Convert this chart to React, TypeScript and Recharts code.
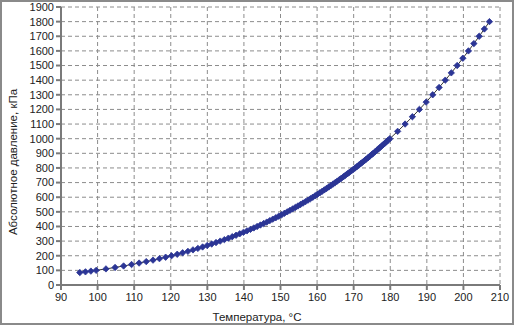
import React from 'react';
import { LineChart, Line, XAxis, YAxis, CartesianGrid, Label } from 'recharts';

const pressureKPa = [
  85, 90, 95, 100, 110, 120, 130, 140, 150, 160, 170, 180, 190, 200,
  210, 220, 230, 240, 250, 260, 270, 280, 290, 300,
  310, 320, 330, 340, 350, 360, 370, 380, 390, 400,
  410, 420, 430, 440, 450, 460, 470, 480, 490, 500,
  510, 520, 530, 540, 550, 560, 570, 580, 590, 600,
  610, 620, 630, 640, 650, 660, 670, 680, 690, 700,
  710, 720, 730, 740, 750, 760, 770, 780, 790, 800,
  810, 820, 830, 840, 850, 860, 870, 880, 890, 900,
  910, 920, 930, 940, 950, 960, 970, 980, 990, 1000,
  1050, 1100, 1150, 1200, 1250, 1300, 1350, 1400, 1450, 1500,
  1550, 1600, 1650, 1700, 1750, 1800,
];

const temperatureC = [
  95.14, 96.69, 98.17, 99.61, 102.29, 104.78, 107.11, 109.29, 111.35, 113.3, 115.15, 116.91, 118.6, 120.21,
  121.77, 123.25, 124.69, 126.08, 127.41, 128.71, 129.97, 131.19, 132.37, 133.52,
  134.65, 135.74, 136.8, 137.85, 138.86, 139.86, 140.83, 141.77, 142.7, 143.61,
  144.51, 145.39, 146.24, 147.08, 147.9, 148.72, 149.52, 150.31, 151.08, 151.83,
  152.58, 153.32, 154.05, 154.76, 155.46, 156.16, 156.84, 157.52, 158.18, 158.83,
  159.48, 160.12, 160.75, 161.37, 161.98, 162.59, 163.19, 163.79, 164.37, 164.95,
  165.53, 166.09, 166.65, 167.2, 167.75, 168.3, 168.83, 169.37, 169.89, 170.41,
  170.93, 171.44, 171.95, 172.45, 172.94, 173.43, 173.92, 174.4, 174.88, 175.35,
  175.82, 176.29, 176.75, 177.21, 177.66, 178.11, 178.56, 179.01, 179.44, 179.88,
  182.02, 184.06, 186.05, 187.96, 189.82, 191.6, 193.35, 195.04, 196.69, 198.29,
  199.85, 201.37, 202.86, 204.31, 205.73, 207.11,
];

const xTicks = [90, 100, 110, 120, 130, 140, 150, 160, 170, 180, 190, 200, 210];
const yTicks = [0, 100, 200, 300, 400, 500, 600, 700, 800, 900, 1000, 1100, 1200, 1300, 1400, 1500, 1600, 1700, 1800, 1900];

const xTitle = 'Температура, °C';
const yTitle = 'Абсолютное давление, кПа';

const rows = temperatureC.map((t, i) => ({ t, p: pressureKPa[i] }));

const FONT = '"Liberation Sans", Arial, sans-serif';

const Diamond = (props: any) => {
  const { cx, cy } = props;
  if (cx == null || cy == null) return null;
  const r = 3.2;
  return (
    <polygon
      points={`${cx},${cy - r} ${cx + r},${cy} ${cx},${cy + r} ${cx - r},${cy}`}
      fill="#2b3595"
      stroke="#2b3595"
      strokeWidth={0.8}
    />
  );
};

export default function App() {
  return (
    <div style={{ position: 'absolute', left: 0, top: 0, width: 519, height: 326, background: '#fff' }}>
      <div
        style={{
          position: 'absolute',
          left: 0,
          top: 0,
          width: 510,
          height: 321,
          border: '2px solid #8a8a8a',
        }}
      />
      <div style={{ position: 'absolute', left: 0, top: 0 }}>
        <LineChart
          width={519}
          height={326}
          data={rows}
          margin={{ top: 7, right: 19, bottom: 11, left: 21 }}
        >
          <CartesianGrid stroke="#8c8c8c" strokeDasharray="4 3" strokeWidth={1} />
          <XAxis
            type="number"
            dataKey="t"
            domain={[90, 210]}
            ticks={xTicks}
            interval={0}
            allowDataOverflow
            height={30}
            tickSize={5}
            tickMargin={3}
            stroke="#7a7a7a"
            strokeWidth={2}
            tick={{ fill: '#222', fontSize: 11, fontFamily: FONT }}
          >
            <Label
              content={() => (
                <text x={257} y={321} textAnchor="middle" fontSize={11.5} fontFamily={FONT} fill="#222">
                  {xTitle}
                </text>
              )}
            />
          </XAxis>
          <YAxis
            type="number"
            dataKey="p"
            domain={[0, 1900]}
            ticks={yTicks}
            interval={0}
            width={40}
            tickSize={5}
            tickMargin={2}
            stroke="#7a7a7a"
            strokeWidth={2}
            tick={{ fill: '#222', fontSize: 11, fontFamily: FONT }}
          >
            <Label
              content={() => (
                <text
                  x={17}
                  y={162}
                  transform="rotate(-90 17 162)"
                  textAnchor="middle"
                  fontSize={11.5}
                  fontFamily={FONT}
                  fill="#222"
                >
                  {yTitle}
                </text>
              )}
            />
          </YAxis>
          <Line
            type="linear"
            dataKey="p"
            stroke="#333"
            strokeWidth={1}
            dot={<Diamond />}
            activeDot={false}
            isAnimationActive={false}
          />
        </LineChart>
      </div>
    </div>
  );
}
